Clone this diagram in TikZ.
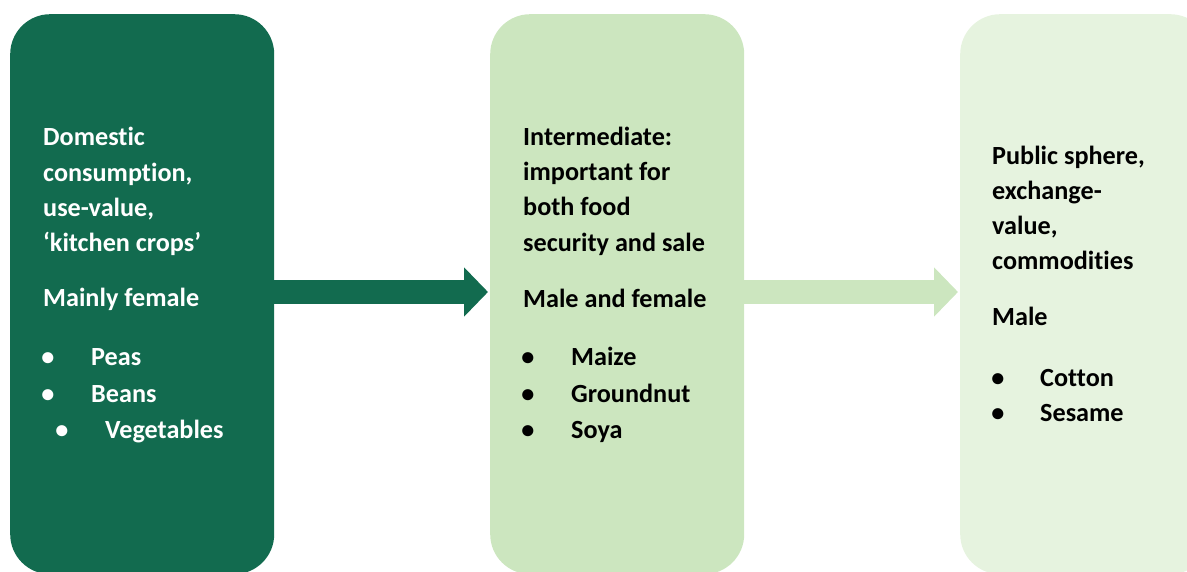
\documentclass[tikz,border=0pt]{standalone}
\usepackage{fontspec}
\setmainfont{Carlito}[BoldFont={Carlito Bold}, Ligatures={NoCommon}]
\usetikzlibrary{arrows.meta}
\definecolor{darkg}{HTML}{126B4F}
\definecolor{midg}{HTML}{CCE6BF}
\definecolor{lightg}{HTML}{E6F3DF}
\tikzset{
  box/.style={rectangle, rounded corners=40pt, draw=none, inner sep=0pt, anchor=north west, minimum height=560pt},
  txt/.style={anchor=base west, inner sep=0pt, font=\fontsize{26.2}{30}\selectfont\bfseries},
  bul/.style={anchor=base, inner sep=0pt, font=\fontsize{26.2}{30}\selectfont\bfseries},
  flow/.style={line width=24pt, -{Triangle[width=48pt,length=24pt]}}
}
\begin{document}
\begin{tikzpicture}[x=1pt,y=-1pt]
\useasboundingbox (0,0) rectangle (1187,572);
\clip (0,0) rectangle (1187,572);
\node[box, fill=darkg, minimum width=264pt] (b1) at (10,14) {};
\node[box, fill=midg, minimum width=254pt] (b2) at (490,14) {};
\node[box, fill=lightg, minimum width=250pt] (b3) at (960,14) {};
\coordinate (a1s) at (274,292);
\coordinate (a1e) at (488,292);
\coordinate (a2s) at (744,292);
\coordinate (a2e) at (958,292);
\draw[flow, darkg] (a1s) -- (a1e);
\draw[flow, midg] (a2s) -- (a2e);
% box 1
\begin{scope}[every node/.append style={text=white}]
\node[txt] (t11) at (43,146) {Domestic};
\node[txt] (t12) at (43,182) {consumption,};
\node[txt] (t13) at (43,217) {use-value,};
\node[txt] (t14) at (43,252) {‘kitchen crops’};
\node[txt] (t15) at (43,307) {Mainly female};
\node[bul] (u11) at (48,365) {•};
\node[txt] (t16) at (91,365) {Peas};
\node[bul] (u12) at (48,402) {•};
\node[txt] (t17) at (91,402) {Beans};
\node[bul] (u13) at (62,438) {•};
\node[txt] (t18) at (105,438) {Vegetables};
\end{scope}
% box 2
\node[txt] (t21) at (523,146) {Intermediate:};
\node[txt] (t22) at (523,181) {important for};
\node[txt] (t23) at (523,216) {both food};
\node[txt] (t24) at (523,252) {security and sale};
\node[txt] (t25) at (523,308) {Male and female};
\node[bul] (u21) at (528,365) {•};
\node[txt] (t26) at (571,365) {Maize};
\node[bul] (u22) at (528,402) {•};
\node[txt] (t27) at (571,402) {Groundnut};
\node[bul] (u23) at (528,438) {•};
\node[txt] (t28) at (571,438) {Soya};
% box 3
\node[txt] (t31) at (992,165) {Public sphere,};
\node[txt] (t32) at (992,200) {exchange-};
\node[txt] (t33) at (992,235) {value,};
\node[txt] (t34) at (992,270) {commodities};
\node[txt] (t35) at (992,326) {Male};
\node[bul] (u31) at (998,386) {•};
\node[txt] (t36) at (1040,386) {Cotton};
\node[bul] (u32) at (998,421) {•};
\node[txt] (t37) at (1040,421) {Sesame};
\end{tikzpicture}
\end{document}
